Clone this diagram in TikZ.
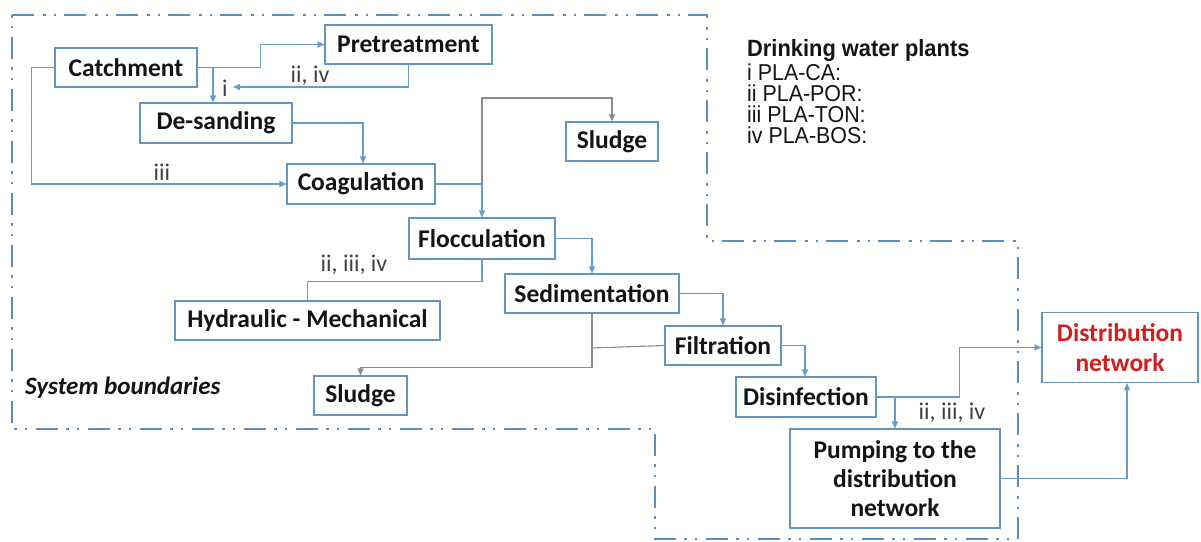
\documentclass[tikz,border=0pt]{standalone}
\usepackage{fontspec}
\newfontfamily\boxfont{Carlito}
\newfontfamily\legfont[FakeStretch=0.93]{Liberation Sans}
\usetikzlibrary{arrows.meta}
\definecolor{bndcol}{RGB}{91,143,190}
\definecolor{boxcol}{RGB}{100,148,192}
\definecolor{arrcol}{RGB}{100,155,208}
\definecolor{graycol}{RGB}{140,140,140}
\definecolor{txtcol}{RGB}{20,20,20}
\definecolor{lblcol}{RGB}{64,64,64}
\definecolor{redcol}{RGB}{210,30,30}
\tikzset{
  pbox/.style={draw=boxcol, line width=1.1pt, inner sep=0pt, align=center, text=txtcol,
    font=\boxfont\bfseries\fontsize{25.5}{29}\selectfont},
  arr/.style={draw=arrcol, line width=1.1pt, -{Triangle[length=7pt,width=6pt]}},
  conn/.style={draw=arrcol, line width=1.1pt},
  garr/.style={draw=graycol, line width=1.1pt, -{Triangle[length=7pt,width=6pt]}},
  gconn/.style={draw=graycol, line width=1.1pt},
  lbl/.style={text=lblcol, inner sep=0pt, font=\boxfont\fontsize{24}{28}\selectfont},
  leg/.style={anchor=base west, inner sep=0pt, text=txtcol, font=\legfont\fontsize{23}{24}\selectfont},
  bnd/.style={draw=bndcol, line width=2.2pt, dash pattern=on 22pt off 9pt on 2.5pt off 8pt on 2.5pt off 8pt}
}
\begin{document}
\begin{tikzpicture}[x=1pt,y=-1pt]
\useasboundingbox (0,0) rectangle (1201,541);
% system boundary
\draw[bnd] (12,15) -- (707,15) -- (707,241) -- (1018,241) -- (1018,539) -- (655,539) -- (655,429) -- (12,429) -- cycle;
% boxes
\node[pbox, minimum width=142pt, minimum height=39pt] (catch) at (126,67.5) {Catchment};
\node[pbox, minimum width=167pt, minimum height=39pt] (pre) at (408.5,44.5) {Pretreatment};
\node[pbox, minimum width=152pt, minimum height=40pt] (desand) at (216,123) {De-sanding};
\node[pbox, minimum width=148pt, minimum height=40pt] (coag) at (361,184) {Coagulation};
\node[pbox, minimum width=92pt, minimum height=39pt] (sludgeA) at (612,141.5) {Sludge};
\node[pbox, minimum width=146pt, minimum height=41pt] (floc) at (482,238.5) {Flocculation};
\node[pbox, minimum width=174pt, minimum height=39pt] (sed) at (592,293.5) {Sedimentation};
\node[pbox, minimum width=265pt, minimum height=39pt] (hyd) at (307.5,320.5) {Hydraulic - Mechanical};
\node[pbox, minimum width=116pt, minimum height=39pt] (filt) at (723,345.5) {Filtration};
\node[pbox, minimum width=93pt, minimum height=39pt] (sludgeB) at (360.5,395.5) {Sludge};
\node[pbox, minimum width=140pt, minimum height=40pt] (dis) at (806,397) {Disinfection};
\node[pbox, minimum width=210pt, minimum height=99pt] (pump) at (895,478.5) {Pumping to the\\distribution\\network};
\node[pbox, minimum width=156pt, minimum height=70pt, text=redcol, font=\boxfont\bfseries\fontsize{25.5}{30}\selectfont] (dist) at (1120,347.5) {Distribution\\network};
% helper coordinates
\coordinate (j1) at (213,67);
\coordinate (r1) at (233,87);
\coordinate (g1) at (482,184);
\coordinate (g2) at (592,348);
\coordinate (j2) at (895,397);
% connectors
\draw[arr] (catch.east) -- ++(63,0) |- (pre.west);
\draw[arr] (j1) -- (j1 |- desand.north);
\draw[arr] (pre.south) |- (r1);
\draw[arr] (desand.east) -| ([xshift=2pt]coag.north);
\draw[arr] (catch.west) -- ++(-23,0) |- (coag.west);
\draw[arr] (coag.east) -| (floc.north);
\draw[garr] (g1) -- (482,98) -| (sludgeA.north);
\draw[conn] (floc.south) -- ++(0,21.5) -| (hyd.north);
\draw[arr] (floc.east) -| (sed.north);
\draw[arr] (sed.east) -| (filt.north);
\draw[garr] (sed.south) -- ++(0,54) -| (sludgeB.north);
\draw[gconn] (filt.west) -- (g2);
\draw[arr] (filt.east) -| ([xshift=-1pt]dis.north);
\draw[arr] (dis.east) -- ++(83,0) |- (dist.west);
\draw[arr] (j2) -- (pump.north);
\draw[arr] (pump.east) -| ([xshift=7pt]dist.south);
% labels
\node[lbl] (li) at (225,88) {i};
\node[lbl] (liiiv) at (310,76) {ii, iv};
\node[lbl] (liii) at (162,172) {iii};
\node[lbl] (lhyd) at (354,265) {ii, iii, iv};
\node[lbl] (lpump) at (952,413) {ii, iii, iv};
\node[anchor=west, inner sep=0pt, text=txtcol, font=\boxfont\bfseries\itshape\fontsize{25}{28}\selectfont] (sysb) at (25,388) {System boundaries};
% legend
\node[leg, font=\legfont\bfseries\fontsize{23.5}{24}\selectfont] (legh) at (747,56.5) {Drinking water plants};
\node[leg] (leg1) at (747,80) {i PLA-CA:};
\node[leg] (leg2) at (747,101) {ii PLA-POR:};
\node[leg] (leg3) at (747,122) {iii PLA-TON:};
\node[leg] (leg4) at (747,143) {iv PLA-BOS:};
\end{tikzpicture}
\end{document}
